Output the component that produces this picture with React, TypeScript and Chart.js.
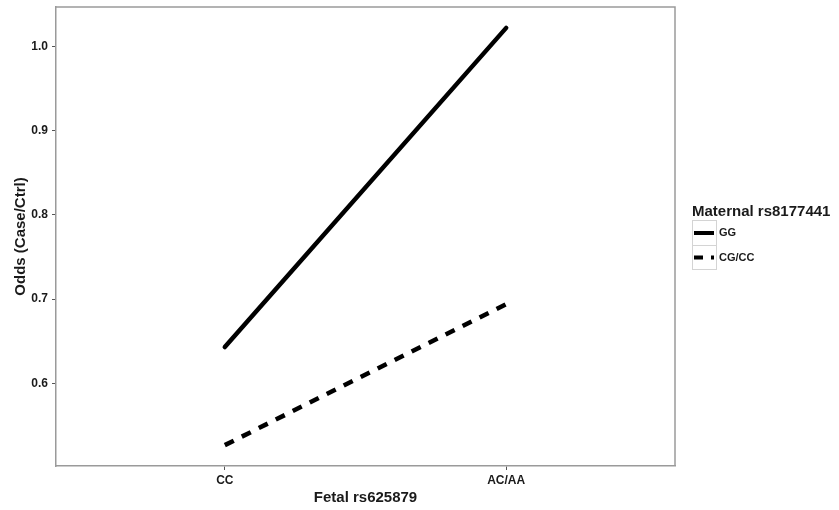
import React, { useEffect, useRef } from "react";
import { Chart, registerables } from "chart.js";

Chart.register(...registerables);

const categories = ["CC", "AC/AA"];
const seriesNames = ["GG", "CG/CC"];
const ggValues = [0.643, 1.0224];
const cgccValues = [0.5264, 0.694];
const yTicks = [0.6, 0.7, 0.8, 0.9, 1.0];

const FONT = "'Liberation Sans', Arial, sans-serif";
const BORDER = "#9a9a9a";
const TICK = "#555";
const TEXT = "#1a1a1a";

const legendPlugin = {
  id: "ggLegend",
  afterDraw(chart: any) {
    const ctx = chart.ctx;
    const { left, right, top, bottom } = chart.chartArea;
    ctx.save();
    // panel border top/right
    ctx.strokeStyle = BORDER;
    ctx.lineWidth = 1.5;
    ctx.beginPath();
    ctx.moveTo(left, top);
    ctx.lineTo(right, top);
    ctx.lineTo(right, bottom);
    ctx.stroke();

    // legend
    const lx = 692;
    ctx.fillStyle = TEXT;
    ctx.font = `bold 15px ${FONT}`;
    ctx.textBaseline = "alphabetic";
    ctx.textAlign = "left";
    ctx.fillText("Maternal rs8177441", lx, 216);

    const rows = [
      { y: 220.5, h: 25, dash: [] as number[] },
      { y: 245.5, h: 24, dash: [9, 8] },
    ];
    rows.forEach((r, i) => {
      ctx.strokeStyle = "#d4d4d4";
      ctx.lineWidth = 1;
      ctx.setLineDash([]);
      ctx.strokeRect(lx + 0.5, r.y, 24, r.h);
      ctx.strokeStyle = "#000";
      ctx.lineWidth = 4;
      ctx.lineCap = "butt";
      ctx.setLineDash(r.dash);
      const cy = r.y + r.h / 2;
      ctx.beginPath();
      ctx.moveTo(lx + 2, cy);
      ctx.lineTo(lx + 22, cy);
      ctx.stroke();
      ctx.setLineDash([]);
      ctx.fillStyle = TEXT;
      ctx.font = `bold 11px ${FONT}`;
      ctx.textBaseline = "middle";
      ctx.fillText(seriesNames[i], lx + 27, cy);
    });
    ctx.restore();
  },
};

export default function App() {
  const ref = useRef<HTMLCanvasElement | null>(null);

  useEffect(() => {
    if (!ref.current) return;
    const chart = new Chart(ref.current, {
      type: "line",
      data: {
        datasets: [
          {
            label: seriesNames[0],
            data: ggValues.map((v, i) => ({ x: i + 1, y: v })),
            borderColor: "#000",
            borderWidth: 4.5,
            borderCapStyle: "round",
            pointRadius: 0,
            fill: false,
          },
          {
            label: seriesNames[1],
            data: cgccValues.map((v, i) => ({ x: i + 1, y: v })),
            borderColor: "#000",
            borderWidth: 4.5,
            borderDash: [10, 9],
            borderCapStyle: "butt",
            pointRadius: 0,
            fill: false,
          },
        ],
      },
      options: {
        responsive: false,
        animation: false,
        layout: { padding: { top: 7, right: 164, bottom: 0, left: 0 } },
        plugins: {
          legend: { display: false },
          tooltip: { enabled: false },
        },
        scales: {
          x: {
            type: "linear",
            min: 0.4,
            max: 2.6,
            afterBuildTicks: (scale: any) => {
              scale.ticks = categories.map((_, i) => ({ value: i + 1 }));
            },
            afterFit: (scale: any) => {
              scale.height = 44;
              scale.paddingLeft = 0;
              scale.paddingRight = 0;
            },
            ticks: {
              callback: (v: any) => categories[Math.round(Number(v)) - 1] ?? "",
              font: { family: FONT, size: 12, weight: "bold" },
              color: TEXT,
              padding: 3,
              maxRotation: 0,
              autoSkip: false,
            },
            grid: {
              display: true,
              drawOnChartArea: false,
              drawTicks: true,
              tickLength: 4,
              color: TICK,
              lineWidth: 1,
            },
            border: { display: true, color: BORDER, width: 1.5 },
            title: {
              display: true,
              text: "Fetal rs625879",
              font: { family: FONT, size: 15, weight: "bold" },
              color: TEXT,
              padding: { top: 0, bottom: 3 },
            },
          },
          y: {
            type: "linear",
            min: 0.5016,
            max: 1.0472,
            afterBuildTicks: (scale: any) => {
              scale.ticks = yTicks.map((v) => ({ value: v }));
            },
            afterFit: (scale: any) => {
              scale.width = 56;
              scale.paddingTop = 0;
              scale.paddingBottom = 0;
            },
            ticks: {
              callback: (v: any) => Number(v).toFixed(1),
              font: { family: FONT, size: 12, weight: "bold" },
              color: TEXT,
              padding: 4,
            },
            grid: {
              display: true,
              drawOnChartArea: false,
              drawTicks: true,
              tickLength: 4,
              color: TICK,
              lineWidth: 1,
            },
            border: { display: true, color: BORDER, width: 1.5 },
            title: {
              display: true,
              text: "Odds (Case/Ctrl)",
              font: { family: FONT, size: 15, weight: "bold" },
              color: TEXT,
              padding: { top: 12, bottom: 0 },
            },
          },
        },
      },
      plugins: [legendPlugin],
    } as any);
    return () => chart.destroy();
  }, []);

  return (
    <div style={{ position: "absolute", left: 0, top: 0, width: 839, height: 510, background: "#fff" }}>
      <canvas ref={ref} width={839} height={510} style={{ display: "block" }} />
    </div>
  );
}
